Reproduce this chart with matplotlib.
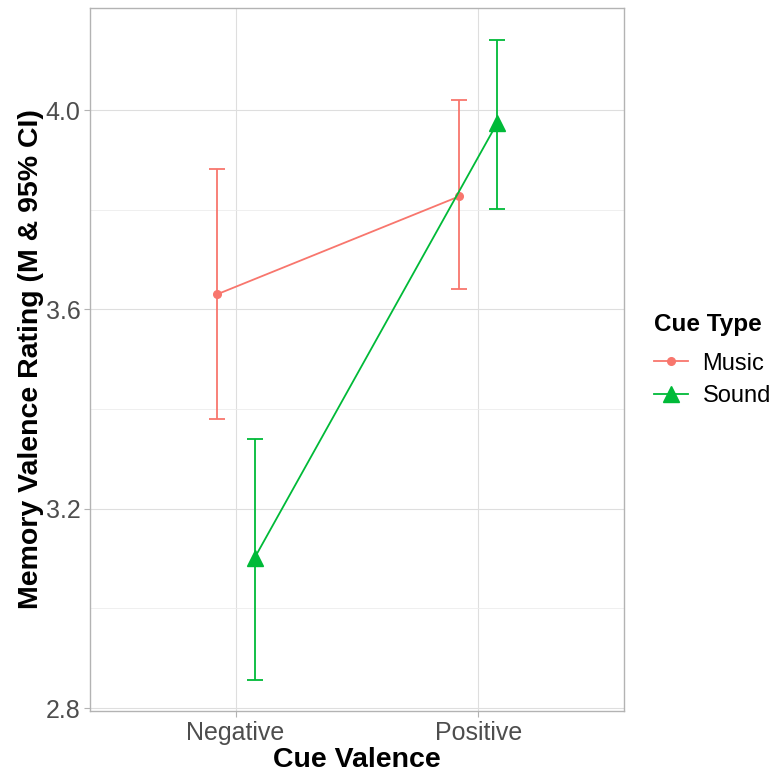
import numpy as np
import matplotlib.pyplot as plt

plt.rcParams['font.family'] = ['Liberation Sans', 'DejaVu Sans']

# Data
categories = ['Negative', 'Positive']
cue_types = ['Music', 'Sound']
means = {'Music': [3.630, 3.827], 'Sound': [3.101, 3.974]}
ci_low = {'Music': [3.381, 3.640], 'Sound': [2.856, 3.801]}
ci_high = {'Music': [3.881, 4.020], 'Sound': [3.339, 4.141]}

colors = {'Music': '#F8766D', 'Sound': '#00BA38'}
markers = {'Music': 'o', 'Sound': '^'}
msizes = {'Music': 5.5, 'Sound': 12}
offsets = {'Music': -0.078, 'Sound': 0.078}

fig = plt.figure(figsize=(7.74, 7.74), dpi=100)
ax = fig.add_axes([0.1163, 0.0814, 0.806 - 0.1163, 0.9897 - 0.0814])

x = np.arange(1, len(categories) + 1)
for ct in cue_types:
    xs = x + offsets[ct]
    m = np.array(means[ct])
    lo = m - np.array(ci_low[ct])
    hi = np.array(ci_high[ct]) - m
    ax.errorbar(xs, m, yerr=[lo, hi], fmt='none', ecolor=colors[ct],
                elinewidth=1.3, capsize=6, capthick=1.3, zorder=3)
    ax.plot(xs, m, color=colors[ct], lw=1.3, marker=markers[ct],
            markersize=msizes[ct], label=ct, zorder=4)

ax.set_xlim(0.4, 2.6)
ax.set_ylim(2.794, 4.205)
ax.set_xticks(x)
ax.set_xticklabels(categories)
ax.set_yticks([2.8, 3.2, 3.6, 4.0])
ax.set_yticklabels(['2.8', '3.2', '3.6', '4.0'])
ax.set_yticks([3.0, 3.4, 3.8], minor=True)

ax.grid(True, which='major', color='#dedede', lw=0.8)
ax.grid(True, which='minor', axis='y', color='#ececec', lw=0.6)
ax.set_axisbelow(True)
for s in ax.spines.values():
    s.set_color('#b3b3b3')
    s.set_linewidth(1.0)
ax.tick_params(which='major', colors='#b3b3b3', labelcolor='#4d4d4d',
               labelsize=18, length=4, width=0.8, pad=3)
ax.tick_params(which='minor', length=0)

ax.set_xlabel('Cue Valence', fontsize=20.5, fontweight='bold', labelpad=2)
ax.set_ylabel('Memory Valence Rating (M & 95% CI)', fontsize=20.5,
              fontweight='bold', labelpad=1)

handles, labels = ax.get_legend_handles_labels()
leg = fig.legend(handles, labels, title='Cue Type', loc='upper left',
                 bbox_to_anchor=(654 / 774, 1 - 313 / 774),
                 frameon=False, fontsize=17, title_fontsize=17.5,
                 handlelength=1.45, handletextpad=0.6, labelspacing=0.45,
                 borderpad=0, borderaxespad=0)
leg.get_title().set_fontweight('bold')
leg._legend_box.align = 'left'
leg._legend_box.sep = 12

fig.savefig('out.png', dpi=100)
